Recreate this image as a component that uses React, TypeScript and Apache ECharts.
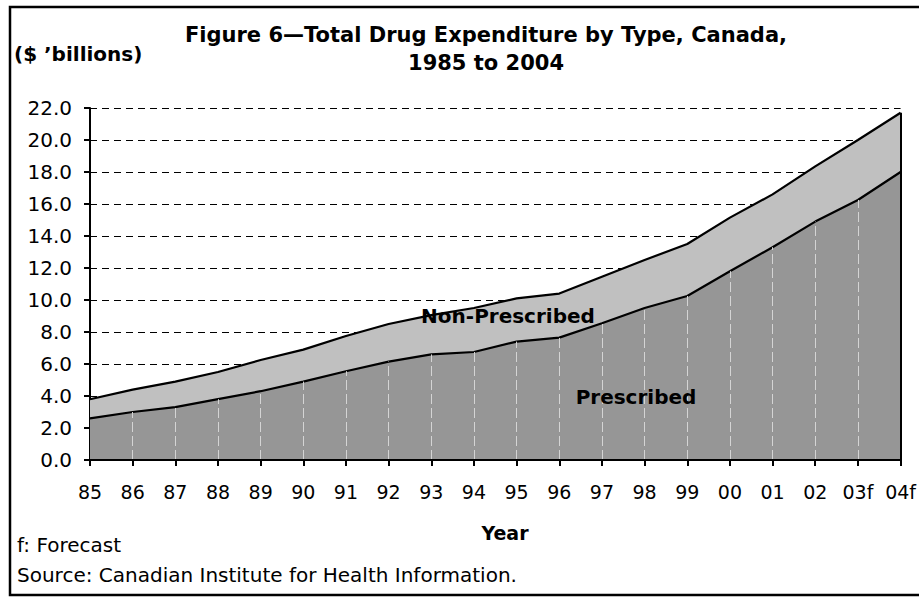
import React, { useEffect, useRef } from "react";
import * as echarts from "echarts";

const years = ["85", "86", "87", "88", "89", "90", "91", "92", "93", "94", "95", "96", "97", "98", "99", "00", "01", "02", "03f", "04f"];
const prescribed = [2.6, 3.0, 3.3, 3.8, 4.3, 4.9, 5.55, 6.15, 6.6, 6.75, 7.4, 7.65, 8.55, 9.5, 10.25, 11.8, 13.3, 14.9, 16.25, 18.0];
const nonPrescribed = [1.2, 1.4, 1.6, 1.7, 1.95, 2.0, 2.2, 2.35, 2.45, 2.75, 2.7, 2.75, 2.9, 3.0, 3.25, 3.35, 3.3, 3.45, 3.75, 3.7];
const yMin = 0;
const yMax = 22;
const yStep = 2;

const FONT = "DejaVu Sans";

export default function App() {
  const ref = useRef<HTMLDivElement>(null);
  useEffect(() => {
    document.body.style.margin = "0";
    const chart = echarts.init(ref.current!, null, { renderer: "svg" });
    const last = years.length - 1;
    const dropLines = years.slice(1, last).map((y, i) => [
      { coord: [y, 0] },
      { coord: [y, prescribed[i + 1]] },
    ]);
    chart.setOption({
      animation: false,
      backgroundColor: "#ffffff",
      textStyle: { fontFamily: FONT },
      grid: { left: 90, right: 15, top: 108, bottom: 137, containLabel: false },
      xAxis: {
        type: "category",
        data: years,
        boundaryGap: false,
        axisLine: { show: true, lineStyle: { color: "#000", width: 2 } },
        axisTick: { show: true, length: 6, lineStyle: { color: "#000", width: 2 } },
        axisLabel: { interval: 0, color: "#000", fontSize: 19, fontFamily: FONT, margin: 22 },
        splitLine: { show: false },
        z: 10,
      },
      yAxis: {
        type: "value",
        min: yMin,
        max: yMax,
        interval: yStep,
        axisLine: { show: true, lineStyle: { color: "#000", width: 2 } },
        axisTick: { show: true, length: 6, lineStyle: { color: "#000", width: 2 } },
        axisLabel: {
          color: "#000",
          fontSize: 20,
          fontFamily: FONT,
          margin: 18,
          formatter: (v: number) => v.toFixed(1),
        },
        splitLine: { show: true, lineStyle: { color: "#000", width: 1, type: [7, 5] } },
      },
      series: [
        {
          name: "Prescribed",
          type: "line",
          stack: "total",
          data: prescribed,
          symbol: "none",
          lineStyle: { color: "#000", width: 2.2 },
          areaStyle: { color: "#969696", opacity: 1 },
          markLine: {
            silent: true,
            symbol: "none",
            label: { show: false },
            lineStyle: { color: "#d4d4d4", width: 1, type: [10, 4] },
            data: dropLines,
          },
          z: 4,
        },
        {
          name: "Non-Prescribed",
          type: "line",
          stack: "total",
          data: nonPrescribed,
          symbol: "none",
          lineStyle: { color: "#000", width: 2.2 },
          areaStyle: { color: "#c0c0c0", opacity: 1 },
          markLine: {
            silent: true,
            symbol: "none",
            label: { show: false },
            lineStyle: { color: "#000", width: 2, type: "solid" },
            data: [[{ coord: [years[last], 0] }, { coord: [years[last], prescribed[last] + nonPrescribed[last]] }]],
          },
          z: 3,
        },
      ],
      graphic: [
        {
          type: "rect",
          shape: { x: 10, y: 7, width: 940, height: 588 },
          style: { fill: "none", stroke: "#000", lineWidth: 2.5 },
          silent: true,
          z: 100,
        },
        {
          type: "text",
          x: 486,
          y: 35,
          style: {
            text: "Figure 6—Total Drug Expenditure by Type, Canada,",
            font: `bold 21px ${FONT}`,
            fill: "#000",
            textAlign: "center",
            textVerticalAlign: "middle",
          },
        },
        {
          type: "text",
          x: 486,
          y: 63,
          style: {
            text: "1985 to 2004",
            font: `bold 21px ${FONT}`,
            fill: "#000",
            textAlign: "center",
            textVerticalAlign: "middle",
          },
        },
        {
          type: "text",
          x: 14,
          y: 54,
          style: {
            text: "($ ’billions)",
            font: `bold 20px ${FONT}`,
            fill: "#000",
            textAlign: "left",
            textVerticalAlign: "middle",
          },
        },
        {
          type: "text",
          x: 508,
          y: 316,
          z: 50,
          style: {
            text: "Non-Prescribed",
            font: `bold 20px ${FONT}`,
            fill: "#000",
            textAlign: "center",
            textVerticalAlign: "middle",
          },
        },
        {
          type: "text",
          x: 636,
          y: 397,
          z: 50,
          style: {
            text: "Prescribed",
            font: `bold 20px ${FONT}`,
            fill: "#000",
            textAlign: "center",
            textVerticalAlign: "middle",
          },
        },
        {
          type: "text",
          x: 505,
          y: 533,
          style: {
            text: "Year",
            font: `bold 19px ${FONT}`,
            fill: "#000",
            textAlign: "center",
            textVerticalAlign: "middle",
          },
        },
        {
          type: "text",
          x: 17,
          y: 545,
          style: {
            text: "f: Forecast",
            font: `20px ${FONT}`,
            fill: "#000",
            textAlign: "left",
            textVerticalAlign: "middle",
          },
        },
        {
          type: "text",
          x: 17,
          y: 575,
          style: {
            text: "Source: Canadian Institute for Health Information.",
            font: `20px ${FONT}`,
            fill: "#000",
            textAlign: "left",
            textVerticalAlign: "middle",
          },
        },
      ],
    });
    return () => chart.dispose();
  }, []);
  return <div ref={ref} style={{ width: 919, height: 597 }} />;
}
